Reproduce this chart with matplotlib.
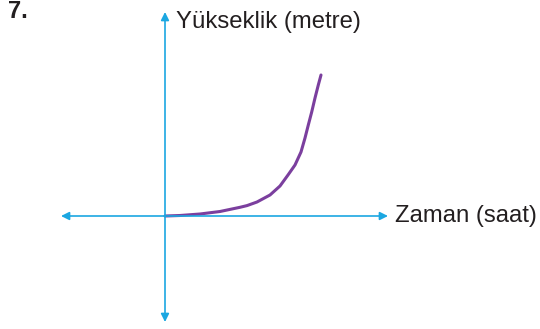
import numpy as np
import matplotlib.pyplot as plt

# curve (pixel-ish units, origin at axis crossing)
zaman = [0, 15, 35, 55, 75, 82, 92, 105, 115, 123, 130, 136, 140, 143.3, 146.7, 150, 153.3, 156]
yukseklik = [0, 0.5, 2, 4.5, 8.7, 10.4, 14, 21, 30, 41, 51, 64, 78, 91, 104, 118, 131, 141]

x_label = "Zaman (saat)"
y_label = "Yükseklik (metre)"
number = "7."

blue = "#1ba7e1"
purple = "#7b3f9e"
dark = "#231f20"

plt.rcParams['font.family'] = ['Liberation Sans', 'DejaVu Sans']

fig = plt.figure(figsize=(5.4, 3.29), dpi=100)
ax = fig.add_axes([0, 0, 1, 1])
ax.set_xlim(-165, 375)
ax.set_ylim(-113, 216)
ax.axis('off')

arrow = dict(arrowstyle='<|-|>', color=blue, lw=1.2,
             shrinkA=0, shrinkB=0, mutation_scale=12)
ax.annotate('', xy=(-104, 0), xytext=(223, 0), arrowprops=arrow)
ax.annotate('', xy=(0, 204), xytext=(0, -106), arrowprops=arrow)

ax.plot(zaman, yukseklik, color=purple, lw=2.2, solid_capstyle='round',
        solid_joinstyle='round')

ax.text(230, 0, x_label, fontsize=17.2, color=dark, va='center', ha='left')
ax.text(11, 194, y_label, fontsize=17.2, color=dark, va='center', ha='left')
fig.text(8 / 540, 1 - 12 / 329, number, fontsize=17, fontweight='bold',
         color=dark, va='center', ha='left')

fig.savefig('out.png', dpi=100)
